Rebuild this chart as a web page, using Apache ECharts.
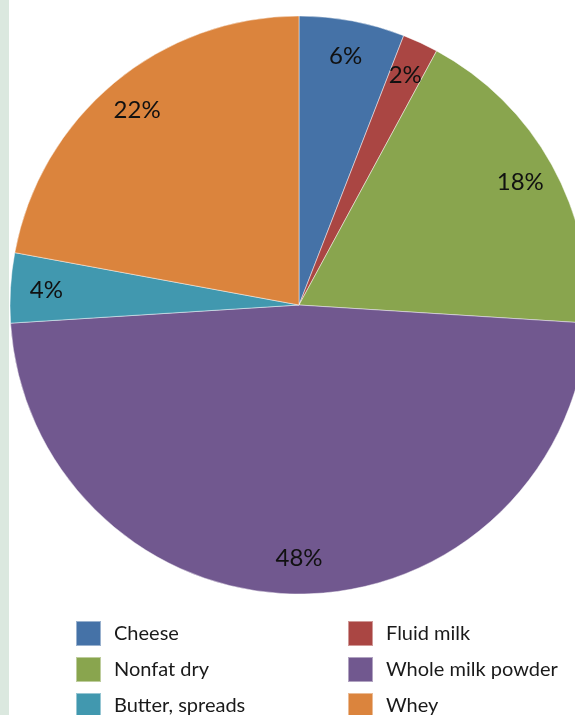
<!DOCTYPE html>
<html><head><meta charset="utf-8">
<script src="https://cdn.jsdelivr.net/npm/echarts@6/dist/echarts.min.js"></script>
<style>html,body{margin:0;padding:0;background:#fff;}#c{width:575px;height:715px;}
#strip{position:absolute;left:0;top:0;width:9px;height:715px;background:#dbe8df;}</style>
</head><body><div id="strip"></div><div id="c"></div>
<script>
const categories = ['Cheese','Fluid milk','Nonfat dry','Whole milk powder','Butter, spreads','Whey'];
const values = [5.9, 2.0, 18.1, 48.0, 3.9, 22.1];
const colors = ['#4572A7','#AA4643','#89A54E','#71588F','#4198AF','#DB843D'];
// legend grid: [column, row] for each category
const legendCells = [[0,0],[1,0],[0,1],[1,1],[0,2],[1,2]];

const font = 'Lato';
const data = categories.map((n,i)=>({name:n, value:values[i]}));
const chart = echarts.init(document.getElementById('c'));
const colX = [75, 347];
const rowY = [620, 656, 692];
const legends = categories.map((n,i)=>({
  orient:'vertical', left:colX[legendCells[i][0]], top:rowY[legendCells[i][1]],
  padding:0, itemWidth:25, itemHeight:25, icon:'rect', data:[n],
  textStyle:{fontFamily:font, fontSize:20, color:'#1a1a1a', padding:[0,0,0,8]},
  selectedMode:false
}));
chart.setOption({
  animation:false,
  color: colors,
  legend: legends,
  series:[
    {
      type:'pie', center:[299,305], radius:[0,289], startAngle:90, clockwise:true,
      data:data, label:{show:false}, labelLine:{show:false},
      itemStyle:{borderColor:'rgba(255,255,255,0.45)', borderWidth:1},
      emphasis:{disabled:true}, silent:true
    },
    {
      type:'pie', center:[299,305], radius:[240,260], startAngle:90, clockwise:true,
      data:data, percentPrecision:0, silent:true, emphasis:{disabled:true},
      itemStyle:{color:'rgba(0,0,0,0)'},
      label:{show:true, position:'inside', formatter:'{d}%', fontFamily:font, fontSize:24, color:'#111'},
      labelLine:{show:false}
    }
  ]
});
</script></body></html>
